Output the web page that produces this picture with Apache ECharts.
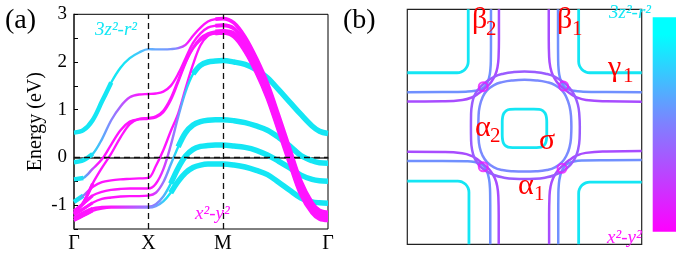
<!DOCTYPE html>
<html><head><meta charset="utf-8">
<script src="https://cdn.jsdelivr.net/npm/echarts@6.0.0/dist/echarts.min.js"></script>
<style>html,body{margin:0;padding:0;background:#fff}#c{width:698px;height:254px}</style>
</head><body><div id="c"></div>
<script>
// ---------- DATA : panel (a) band structure ----------
const kTicks = [0, 1, 2, 3.414];
const kLabels = ['Γ', 'X', 'M', 'Γ'];
const K = [0,0.125,0.25,0.375,0.5,0.625,0.75,0.875,1, 1.1,1.2,1.3,1.4,1.5,1.6,1.7,1.8,1.9,2, 2.15,2.3,2.45,2.6,2.75,2.9,3.05,3.2,3.3,3.414];
const bandA  = [0.52,0.57,0.78,1.17,1.57,1.88,2.08,2.2,2.27, 2.265,2.265,2.27,2.29,2.36,2.55,2.72,2.85,2.9,2.91, 2.82,2.52,2.08,1.55,0.88,0.18,-0.50,-0.95,-1.11,-1.15];
const bandB  = [-0.10,-0.06,0.07,0.38,0.78,1.07,1.26,1.32,1.33, 1.34,1.38,1.5,1.75,2.08,2.4,2.6,2.72,2.76,2.77, 2.70,2.41,1.98,1.45,0.78,0.09,-0.58,-1.01,-1.16,-1.20];
const bandC1 = [-0.46,-0.43,-0.24,-0.04,0.27,0.57,0.75,0.80,0.81, 0.84,0.95,1.2,1.58,1.98,2.3,2.5,2.6,2.64,2.65, 2.60,2.31,1.88,1.35,0.68,-0.01,-0.67,-1.08,-1.22,-1.25];
const bandC2 = [-1.17,-0.95,-0.55,-0.22,0.08,0.42,0.70,0.81,0.83, 0.86,0.98,1.24,1.62,2.0,2.28,2.46,2.56,2.6,2.61, 2.55,2.25,1.82,1.28,0.61,-0.08,-0.73,-1.12,-1.26,-1.29];
const bandD1 = [-0.93,-0.80,-0.62,-0.52,-0.48,-0.46,-0.45,-0.44,-0.43, -0.18,0.15,0.55,0.92,1.45,1.95,2.35,2.55,2.6,2.61, 2.53,2.22,1.78,1.24,0.56,-0.13,-0.78,-1.16,-1.29,-1.32];
const bandD2 = [-1.12,-0.97,-0.80,-0.72,-0.68,-0.66,-0.65,-0.65,-0.65, -0.55,-0.25,0.25,0.85,1.38,1.75,1.93,2.0,2.02,2.03, 2.0,1.95,1.84,1.67,1.42,1.16,0.9,0.66,0.55,0.50];
const bandD3 = [-1.2,-1.08,-0.95,-0.87,-0.84,-0.82,-0.81,-0.81,-0.80, -0.74,-0.52,-0.15,0.22,0.52,0.68,0.75,0.78,0.79,0.79, 0.77,0.73,0.66,0.57,0.42,0.24,0.04,-0.07,-0.11,-0.12];
const bandD4 = [-1.27,-1.16,-1.07,-1.04,-1.03,-1.03,-1.03,-1.03,-1.03, -0.98,-0.82,-0.55,-0.22,0.03,0.17,0.23,0.25,0.26,0.26, 0.24,0.21,0.15,0.05,-0.08,-0.22,-0.37,-0.46,-0.49,-0.50];
const bandD5 = [-1.32,-1.22,-1.12,-1.07,-1.05,-1.05,-1.05,-1.05,-1.05, -1.02,-0.92,-0.74,-0.5,-0.32,-0.21,-0.16,-0.14,-0.14,-0.14, -0.16,-0.2,-0.27,-0.36,-0.52,-0.69,-0.85,-0.93,-0.95,-0.96];

// ---------- DATA : panel (b) Fermi surface contours (kx, ky in units of pi) ----------
const fsSigma = [[0.19,-0.014],[0.19,0.04],[0.187,0.08],[0.176,0.115],[0.155,0.138],[0.125,0.148],[0.08,0.15],[0,0.15],[-0.08,0.15],[-0.125,0.148],[-0.155,0.138],[-0.176,0.115],[-0.187,0.08],[-0.19,0.04],[-0.19,-0.014],
  [-0.19,-0.07],[-0.187,-0.11],[-0.176,-0.145],[-0.155,-0.166],[-0.125,-0.176],[-0.08,-0.178],[0,-0.178],[0.08,-0.178],[0.125,-0.176],[0.155,-0.166],[0.176,-0.145],[0.187,-0.11],[0.19,-0.07],[0.19,-0.014]];
const fsGammaTL = [[-0.48,1],[-0.48,0.555],[-0.487,0.52],[-0.508,0.488],[-0.54,0.467],[-0.575,0.46],[-1,0.46]];
const fsGammaTR = [[0.462,1],[0.462,0.555],[0.469,0.52],[0.49,0.488],[0.522,0.467],[0.557,0.46],[1,0.46]];
const fsGammaBL = [[-0.474,-1],[-0.474,-0.557],[-0.481,-0.522],[-0.502,-0.49],[-0.534,-0.469],[-0.569,-0.462],[-1,-0.462]];
const fsGammaBR = [[0.462,-1],[0.462,-0.565],[0.469,-0.53],[0.49,-0.498],[0.522,-0.477],[0.557,-0.47],[1,-0.47]];
const fsAlphaOuter = [[0.472,0],[0.468,0.10],[0.455,0.19],[0.425,0.27],[0.38,0.335],[0.33,0.38],[0.26,0.425],[0.18,0.452],[0.09,0.466],[0,0.47],
  [-0.09,0.466],[-0.18,0.452],[-0.26,0.425],[-0.33,0.38],[-0.38,0.335],[-0.425,0.27],[-0.448,0.19],[-0.456,0.10],[-0.457,0],
  [-0.456,-0.10],[-0.448,-0.19],[-0.425,-0.27],[-0.385,-0.33],[-0.33,-0.375],[-0.26,-0.41],[-0.18,-0.432],[-0.09,-0.443],[0,-0.445],
  [0.09,-0.443],[0.18,-0.432],[0.26,-0.41],[0.33,-0.375],[0.385,-0.33],[0.43,-0.27],[0.458,-0.19],[0.47,-0.10],[0.472,0]];
const fsAlphaInner = [[0.40,0],[0.397,0.09],[0.385,0.17],[0.36,0.245],[0.32,0.31],[0.26,0.355],[0.19,0.38],[0.1,0.395],[0,0.40],
  [-0.1,0.395],[-0.19,0.38],[-0.26,0.355],[-0.32,0.31],[-0.36,0.245],[-0.383,0.17],[-0.392,0.09],[-0.394,0],
  [-0.392,-0.09],[-0.383,-0.17],[-0.36,-0.24],[-0.32,-0.30],[-0.26,-0.345],[-0.19,-0.368],[-0.1,-0.378],[0,-0.38],
  [0.1,-0.378],[0.19,-0.368],[0.26,-0.345],[0.32,-0.30],[0.36,-0.24],[0.385,-0.17],[0.397,-0.09],[0.40,0]];
const fsBetaOutTL = [[-0.286,1],[-0.286,0.75],[-0.287,0.58],[-0.291,0.49],[-0.302,0.42],[-0.325,0.36],[-0.36,0.325],[-0.42,0.306],[-0.5,0.299],[-0.7,0.296],[-1,0.294]];
const fsBetaOutTR = [[0.286,1],[0.286,0.75],[0.287,0.58],[0.291,0.49],[0.302,0.42],[0.325,0.36],[0.36,0.325],[0.42,0.306],[0.5,0.299],[0.7,0.296],[1,0.294]];
const fsBetaOutBL = [[-0.292,-1],[-0.292,-0.75],[-0.293,-0.58],[-0.297,-0.49],[-0.308,-0.42],[-0.33,-0.36],[-0.365,-0.32],[-0.425,-0.3],[-0.5,-0.293],[-0.7,-0.29],[-1,-0.29]];
const fsBetaOutBR = [[0.288,-1],[0.288,-0.75],[0.289,-0.58],[0.293,-0.49],[0.304,-0.42],[0.326,-0.36],[0.36,-0.318],[0.42,-0.296],[0.5,-0.287],[0.7,-0.284],[1,-0.283]];
const fsBetaInTL = [[-0.218,1],[-0.218,0.75],[-0.221,0.6],[-0.23,0.51],[-0.25,0.44],[-0.285,0.38],[-0.335,0.33],[-0.39,0.285],[-0.45,0.25],[-0.53,0.228],[-0.7,0.217],[-1,0.215]];
const fsBetaInTR = [[0.207,1],[0.207,0.75],[0.21,0.6],[0.22,0.51],[0.241,0.44],[0.277,0.38],[0.327,0.332],[0.383,0.287],[0.445,0.251],[0.525,0.228],[0.7,0.217],[1,0.214]];
const fsBetaInBL = [[-0.22,-1],[-0.22,-0.75],[-0.223,-0.6],[-0.232,-0.51],[-0.252,-0.44],[-0.287,-0.38],[-0.337,-0.33],[-0.392,-0.285],[-0.452,-0.248],[-0.532,-0.225],[-0.7,-0.214],[-1,-0.212]];
const fsBetaInBR = [[0.21,-1],[0.21,-0.75],[0.213,-0.6],[0.222,-0.51],[0.243,-0.44],[0.278,-0.38],[0.327,-0.33],[0.382,-0.283],[0.443,-0.246],[0.523,-0.222],[0.7,-0.21],[1,-0.207]];
const fsHybrid = [[-0.352,0.341],[0.334,0.347],[-0.352,-0.34],[0.32,-0.353]];

// ---------- STYLE ----------
const CY = '#14e6f4', MG = '#ff14ff', BLU = '#7090ff', PUR = '#a84cff';
const FONT = "'Liberation Serif','Times New Roman',serif";
const kMax = kTicks[kTicks.length - 1];
const chart = echarts.init(document.getElementById('c'), null, {renderer: 'canvas'});

function grad(stops) {
  return new echarts.graphic.LinearGradient(0, 0, 1, 0, stops.map(s => ({offset: s[0] / kMax, color: s[1]})));
}
function pts(band, a, b) { return K.slice(a, b).map((k, i) => [k, band[a + i]]); }
function bandLine(data, color, width, z) {
  return {type: 'line', xAxisIndex: 0, yAxisIndex: 0, data, symbol: 'none', smooth: 0.35,
    lineStyle: {color, width, cap: 'butt', join: 'round'}, silent: true, animation: false, z};
}
function fsLine(data, color, width) {
  return {type: 'line', xAxisIndex: 1, yAxisIndex: 1, data, symbol: 'none', smooth: 0.5,
    lineStyle: {color, width, cap: 'butt', join: 'round'}, silent: true, animation: false, z: 3};
}

const bands = [
  {d: bandA,  st: [[0,CY],[0.68,CY],[1,'#5fb4ff'],[1.37,'#7f8cff'],[1.54,MG],[kMax,MG]]},
  {d: bandB,  st: [[0,CY],[0.24,CY],[0.5,'#7f8cff'],[0.75,'#d040ff'],[0.92,MG],[kMax,MG]]},
  {d: bandC1, st: [[0,CY],[0.12,CY],[0.34,MG],[kMax,MG]]},
  {d: bandC2, st: [[0,MG],[kMax,MG]]},
  {d: bandD1, st: [[0,CY],[0.08,CY],[0.24,MG],[kMax,MG]]},
  {d: bandD2, st: [[0,MG],[1.13,MG],[1.37,'#8f7fff'],[1.57,CY],[kMax,CY]]},
  {d: bandD3, st: [[0,MG],[1.02,MG],[1.23,'#8f7fff'],[1.4,CY],[kMax,CY]]},
  {d: bandD4, st: [[0,MG],[0.5,MG],[1,'#a060ff'],[1.16,'#7f8cff'],[1.3,CY],[kMax,CY]]},
  {d: bandD5, st: [[0,MG],[0.5,MG],[1,'#8f7fff'],[1.13,'#6fa0ff'],[1.26,CY],[kMax,CY]]}
];

const series = [];
// thick cyan portions (3z2-r2 character)
[[bandD2,14],[bandD3,12],[bandD4,11],[bandD5,11]].forEach(p => series.push(bandLine(pts(p[0], p[1], K.length), CY, 5.5, 2)));
[[bandA,5],[bandB,3],[bandC1,2],[bandD1,2]].forEach(p => series.push(bandLine(pts(p[0], 0, p[1]), CY, 4.5, 2)));
// full thin paths with orbital colour gradient
bands.forEach(b => series.push(bandLine(pts(b.d, 0, K.length), grad(b.st), 2.4, 3)));
// thick magenta portions (x2-y2 character)
[bandA, bandB, bandC1, bandC2, bandD1].forEach(b => series.push(bandLine(pts(b, 17, K.length), MG, 3.8, 4)));
[bandC2, bandD2, bandD3, bandD4, bandD5].forEach(b => series.push(bandLine(pts(b, 0, 3), MG, 3.2, 4)));
// dashed guide lines at high-symmetry points and Fermi level
series.push({type: 'line', xAxisIndex: 0, yAxisIndex: 0, data: pts(bandA, 0, 1), symbol: 'none', lineStyle: {width: 0}, silent: true, animation: false, z: 5,
  markLine: {symbol: 'none', silent: true, animation: false, label: {show: false},
    lineStyle: {type: [6, 4], color: '#111', width: 1.3},
    data: [{xAxis: kTicks[1]}, {xAxis: kTicks[2]}, {yAxis: 0}]}});

// Fermi surface
[fsGammaTL, fsGammaTR, fsGammaBL, fsGammaBR, fsSigma].forEach(d => series.push(fsLine(d, CY, 2.8)));
[fsBetaOutTL, fsBetaOutTR, fsBetaOutBL, fsBetaOutBR].forEach(d => series.push(fsLine(d, BLU, 2.5)));
[fsBetaInTL, fsBetaInTR, fsBetaInBL, fsBetaInBR].forEach(d => series.push(fsLine(d, PUR, 2.5)));
series.push(fsLine(fsAlphaInner, '#7a8aff', 2.5));
series.push(fsLine(fsAlphaOuter, '#9a5cff', 2.5));
series.push({type: 'scatter', xAxisIndex: 1, yAxisIndex: 1, data: fsHybrid, symbol: 'circle', symbolSize: 9,
  itemStyle: {color: 'rgba(0,0,0,0)', borderColor: '#e81cff', borderWidth: 2}, silent: true, animation: false, z: 4});

function txt(s, x, base, size, color, italic) {
  return {type: 'text', silent: true, z: 10,
    style: {text: s, x, y: base - 0.31 * size, fill: color, textAlign: 'left', textVerticalAlign: 'middle',
      font: (italic ? 'italic ' : '') + size + 'px ' + FONT}};
}
const RED = '#ff0000';
const graphics = [
  txt('(a)', 5, 29, 28, '#000'),
  txt('(b)', 343, 29, 28, '#000'),
  txt('3z²-r²', 95, 36, 19, CY, true),
  txt('x²-y²', 195, 220, 19, MG, true),
  txt('3z²-r²', 609, 19, 19, CY, true),
  txt('x²-y²', 607, 244, 19, MG, true),
  txt('β', 472, 29, 30, RED), txt('2', 486, 36, 21, RED),
  txt('β', 557, 29, 30, RED), txt('1', 572, 36, 21, RED),
  txt('γ', 608, 77, 30, RED), txt('1', 623, 83, 21, RED),
  txt('α', 475, 137, 30, RED), txt('2', 490, 143, 21, RED),
  txt('σ', 539, 150, 30, RED),
  txt('α', 518, 195, 30, RED), txt('1', 534, 201, 21, RED),
  {type: 'rect', silent: true, z: 10, shape: {x: 652.7, y: 17.3, width: 23.3, height: 214.4},
    style: {fill: new echarts.graphic.LinearGradient(0, 0, 0, 1, [
      {offset: 0, color: '#00ffff'}, {offset: 0.08, color: '#00ffff'}, {offset: 0.5, color: '#7f80ff'}, {offset: 1, color: '#ff00ff'}])}}
];

chart.setOption({
  backgroundColor: '#fff',
  animation: false,
  grid: [
    {left: 74, top: 14.3, width: 254, height: 218, show: true, borderColor: '#000', borderWidth: 1, backgroundColor: 'transparent'},
    {left: 407.3, top: 9.3, width: 234.4, height: 235, show: true, borderColor: '#222', borderWidth: 1.2, backgroundColor: 'transparent'}
  ],
  xAxis: [
    {type: 'value', gridIndex: 0, min: 0, max: kMax, splitLine: {show: false},
      axisLine: {show: true, lineStyle: {color: '#333', width: 1.5}}, axisTick: {show: false},
      axisLabel: {customValues: kTicks, margin: 5, fontSize: 20, fontFamily: FONT, color: '#000',
        formatter: v => { let i = kTicks.findIndex(t => Math.abs(t - v) < 1e-3); return i < 0 ? '' : kLabels[i]; }}},
    {type: 'value', gridIndex: 1, min: -1, max: 1, show: false}
  ],
  yAxis: [
    {type: 'value', gridIndex: 0, min: -1.5, max: 3, interval: 0.5, splitLine: {show: false},
      axisLine: {show: true, lineStyle: {color: '#333', width: 1.5}},
      axisTick: {show: true, inside: true, length: 4, lineStyle: {color: '#000'}},
      axisLabel: {margin: 7, fontSize: 19, fontFamily: FONT, color: '#000',
        formatter: v => (Math.abs(v - Math.round(v)) < 1e-6 && v > -1.4) ? String(Math.round(v)) : ''},
      name: 'Energy (eV)', nameLocation: 'middle', nameGap: 28,
      nameTextStyle: {fontSize: 20, fontFamily: FONT, color: '#000'}},
    {type: 'value', gridIndex: 1, min: -1, max: 1, show: false}
  ],
  series,
  graphic: graphics
});
</script></body></html>
